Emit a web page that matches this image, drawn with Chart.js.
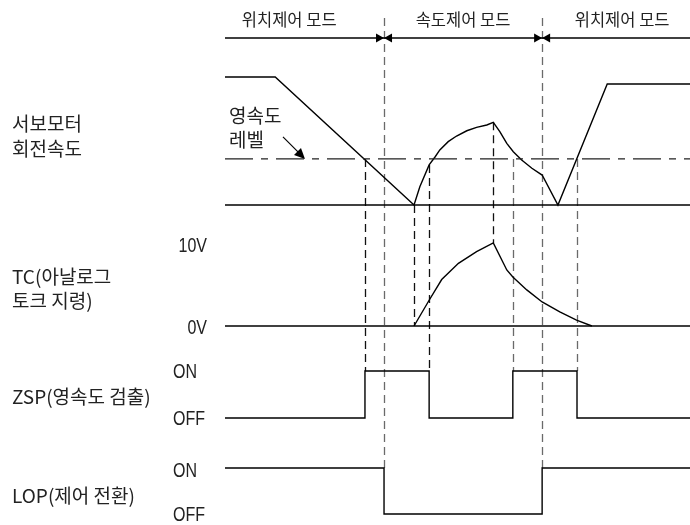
<!DOCTYPE html>
<html>
<head>
<meta charset="utf-8">
<script src="https://cdn.jsdelivr.net/npm/chart.js@4.4.1/dist/chart.umd.min.js"></script>
<style>
  html, body { margin: 0; padding: 0; background: #fff; }
</style>
</head>
<body>
<canvas id="timing" width="690" height="525"></canvas>
<script>
// time axis: 0 .. 100 (arbitrary units)
const speedTime  = [0, 10.8, 40.65, 41.9, 43.9, 45.2, 46.2, 48.0, 49.8, 52.0, 54.1, 56.3, 57.7, 59.1, 60.6, 62.0, 63.8, 66.0, 68.2, 71.6, 82.2, 100];
const speedValue = [100, 100, 0, 14.3, 31.3, 37.7, 43, 49.5, 53.9, 58, 60.7, 62.5, 64.6, 57.3, 48.2, 41.6, 35.2, 28.7, 23.4, 0, 94.5, 94.5];
const zeroSpeedLevel = 36;

const tcTime  = [40.65, 43.9, 46.6, 50.2, 54.1, 57.7, 60.6, 61.9, 64.9, 68.2, 72.0, 75.6, 78.9];
const tcVolt  = [0, 3.1, 5.6, 7.55, 8.95, 10, 6.75, 5.9, 4.35, 2.9, 1.7, 0.7, 0];

const zspTime  = [0, 30.1, 30.1, 43.9, 43.9, 61.9, 61.9, 75.7, 75.7, 100];
const zspState = [0, 0, 1, 1, 0, 0, 1, 1, 0, 0];

const lopTime  = [0, 34.2, 34.2, 68.2, 68.2, 100];
const lopState = [1, 1, 0, 0, 1, 1];

const modeBounds = [34.2, 68.2];
const modeLabels = ['위치제어 모드', '속도제어 모드', '위치제어 모드'];
const modeLabelTime = [13.8, 51.2, 85.4];

// dashed guide lines: time, start [axis, value], end [axis, value], grey?
const guides = [
  { t: 30.1,  from: ['ySpeed', zeroSpeedLevel], to: ['yZsp', 1], grey: false },
  { t: 34.2,  from: ['yMode', 2],               to: ['yLop', 1], grey: true },
  { t: 40.65, from: ['ySpeed', 0],              to: ['yTc', 0],  grey: false },
  { t: 43.9,  from: ['ySpeed', 31.3],           to: ['yZsp', 1], grey: false },
  { t: 57.7,  from: ['ySpeed', 64.6],           to: ['yTc', 10], grey: false },
  { t: 61.9,  from: ['ySpeed', zeroSpeedLevel], to: ['yZsp', 1], grey: true },
  { t: 68.2,  from: ['yMode', 2],               to: ['yLop', 1], grey: true },
  { t: 75.7,  from: ['ySpeed', zeroSpeedLevel], to: ['yZsp', 1], grey: true }
];

const W = 690, H = 525;
const KR = '"Noto Sans CJK KR"';

// each signal gets its own y axis spanning the full canvas; zeroPx/unitPx place its band
function band(zeroPx, unitPx) {
  return { display: false, min: -(H - zeroPx) / unitPx, max: zeroPx / unitPx };
}

function pts(xs, ys) {
  return xs.map((t, i) => ({ x: t, y: ys[i] }));
}

function line(data, axis, extra) {
  return Object.assign({
    data: data,
    yAxisID: axis,
    borderColor: '#000',
    borderWidth: 1.4,
    pointRadius: 0,
    tension: 0,
    fill: false
  }, extra || {});
}

// condensed latin labels (10V, ON, OFF)
function narrowText(ctx, txt, x, y, align) {
  ctx.save();
  ctx.font = '20px "Liberation Sans"';
  ctx.textAlign = align;
  ctx.translate(x, y);
  ctx.scale(0.8, 1);
  ctx.fillText(txt, 0, 0);
  ctx.restore();
}

const diagramDecor = {
  id: 'diagramDecor',
  beforeDatasetsDraw(chart) {
    const ctx = chart.ctx;
    const s = chart.scales;
    ctx.save();
    ctx.lineWidth = 1.3;
    ctx.setLineDash([8, 5]);
    guides.forEach(g => {
      const px = Math.round(s.x.getPixelForValue(g.t)) + 0.5;
      ctx.strokeStyle = g.grey ? '#6a6a6a' : '#111';
      ctx.beginPath();
      ctx.moveTo(px, s[g.from[0]].getPixelForValue(g.from[1]));
      ctx.lineTo(px, s[g.to[0]].getPixelForValue(g.to[1]));
      ctx.stroke();
    });
    ctx.restore();
  },
  afterDatasetsDraw(chart) {
    const ctx = chart.ctx;
    const s = chart.scales;
    const modeY = s.yMode.getPixelForValue(0);
    ctx.save();
    ctx.fillStyle = '#000';

    // bow-tie arrows on the mode boundaries
    modeBounds.forEach(t => {
      const px = s.x.getPixelForValue(t);
      ctx.beginPath();
      ctx.moveTo(px - 8, modeY - 4.5);
      ctx.lineTo(px, modeY);
      ctx.lineTo(px - 8, modeY + 4.5);
      ctx.closePath();
      ctx.moveTo(px + 8, modeY - 4.5);
      ctx.lineTo(px, modeY);
      ctx.lineTo(px + 8, modeY + 4.5);
      ctx.closePath();
      ctx.fill();
    });

    // arrow pointing at the zero speed level
    const tipX = s.x.getPixelForValue(17.2);
    const tipY = s.ySpeed.getPixelForValue(zeroSpeedLevel);
    ctx.strokeStyle = '#000';
    ctx.lineWidth = 1.2;
    ctx.beginPath();
    ctx.moveTo(tipX - 22, tipY - 22);
    ctx.lineTo(tipX - 5, tipY - 5);
    ctx.stroke();
    ctx.beginPath();
    ctx.moveTo(tipX, tipY);
    ctx.lineTo(tipX - 11, tipY - 4);
    ctx.lineTo(tipX - 4, tipY - 11);
    ctx.closePath();
    ctx.fill();

    ctx.fillStyle = '#222';
    ctx.textBaseline = 'middle';

    // mode labels
    ctx.font = '16.5px ' + KR;
    ctx.textAlign = 'center';
    modeLabels.forEach((txt, i) => {
      ctx.fillText(txt, s.x.getPixelForValue(modeLabelTime[i]), modeY - 18);
    });

    ctx.textAlign = 'left';
    ctx.font = '19px ' + KR;
    ctx.fillText('영속도', 229, tipY - 43);
    ctx.fillText('레벨', 229, tipY - 19);

    // signal names
    ctx.fillText('서보모터', 12, 124);
    ctx.fillText('회전속도', 12, 149);
    ctx.fillText('TC(아날로그', 12, 277);
    ctx.fillText('토크 지령)', 12, 301);
    ctx.fillText('ZSP(영속도 검출)', 12, 397);
    ctx.fillText('LOP(제어 전환)', 12, 496);

    // level labels
    narrowText(ctx, '10V', 207, s.yTc.getPixelForValue(10) + 3, 'right');
    narrowText(ctx, '0V', 207, s.yTc.getPixelForValue(0) + 2, 'right');
    narrowText(ctx, 'ON', 173, s.yZsp.getPixelForValue(1) + 1, 'left');
    narrowText(ctx, 'OFF', 173, s.yZsp.getPixelForValue(0) + 1, 'left');
    narrowText(ctx, 'ON', 173, s.yLop.getPixelForValue(1) + 3, 'left');
    narrowText(ctx, 'OFF', 173, s.yLop.getPixelForValue(0) + 1, 'left');
    ctx.restore();
  }
};

new Chart(document.getElementById('timing'), {
  type: 'line',
  data: {
    datasets: [
      line(pts([0, 100], [0, 0]), 'yMode'),
      line(pts([0, 100], [0, 0]), 'ySpeed'),
      line(pts([0, 100], [zeroSpeedLevel, zeroSpeedLevel]), 'ySpeed', { borderDash: [28, 8, 7, 8], borderColor: '#222', borderWidth: 1.2 }),
      line(pts(speedTime, speedValue), 'ySpeed'),
      line(pts([0, 100], [0, 0]), 'yTc'),
      line(pts(tcTime, tcVolt), 'yTc'),
      line(pts(zspTime, zspState), 'yZsp'),
      line(pts(lopTime, lopState), 'yLop')
    ]
  },
  options: {
    responsive: false,
    animation: false,
    events: [],
    layout: { padding: 0 },
    plugins: { legend: { display: false }, tooltip: { enabled: false } },
    scales: {
      x: { type: 'linear', display: false, min: -225 / 4.65, max: (W - 225) / 4.65 },
      yMode: band(38, 10),
      ySpeed: band(205, 1.28),
      yTc: band(326, 8.3),
      yZsp: band(418, 47),
      yLop: band(514, 46)
    }
  },
  plugins: [diagramDecor]
});
</script>
</body>
</html>
